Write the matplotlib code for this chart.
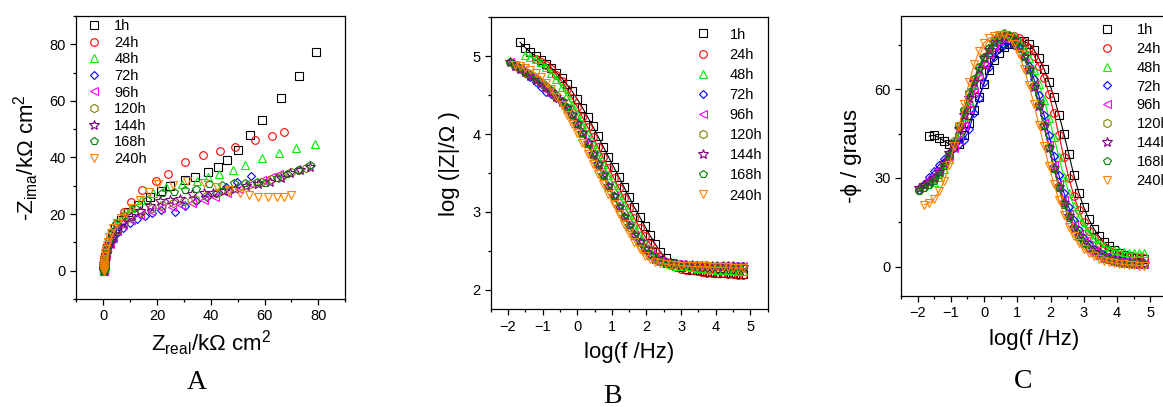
import matplotlib
matplotlib.use('Agg')
import matplotlib.pyplot as plt
from matplotlib.ticker import MultipleLocator

plt.rcParams['font.family'] = ['Liberation Sans', 'DejaVu Sans']
plt.rcParams['mathtext.fontset'] = 'custom'
plt.rcParams['mathtext.rm'] = 'Liberation Sans'
plt.rcParams['mathtext.it'] = 'Liberation Sans:italic'

labels = ['1h', '24h', '48h', '72h', '96h', '120h', '144h', '168h', '240h']
colors = ['black', '#ff0000', '#00ee00', '#0000ff', '#ff00ff', '#808000', '#800080', '#008000', '#ff8000']
markers = ['s', 'o', '^', 'D', '<', 'h', '*', 'p', 'v']

# ---- A: Nyquist (kOhm cm2) ----
zr_1h = [0.17,0.17,0.18,0.20,0.24,0.32,0.45,0.65,0.95,1.4,2.1,3.1,4.5,6.5,9.2,12.8,17.3,21.5,25.0,30.5,34.2,38.8,42.5,46.0,50.1,54.7,59.1,66.0,72.9,79.2]
zi_1h = [0.0,0.3,0.6,1.0,1.6,2.4,3.4,4.7,6.2,8.0,10.1,12.5,15.1,17.9,20.6,23.2,26.0,28.2,29.8,31.9,33.0,34.8,36.7,39.0,42.8,47.8,53.1,61.1,68.8,77.3]
zr_24h = [0.16,0.16,0.17,0.19,0.23,0.30,0.42,0.6,0.9,1.35,2.0,3.3,5.2,7.7,10.5,14.5,19.7,24.0,30.5,37.1,43.3,49.1,56.3,62.7,67.3]
zi_24h = [0.0,0.3,0.7,1.2,1.8,2.7,3.8,5.1,6.8,8.7,10.9,13.8,17.0,20.7,24.1,28.6,31.8,34.3,38.3,40.8,42.2,43.6,46.1,47.5,48.9]
zr_48h = [0.18,0.18,0.19,0.21,0.25,0.33,0.46,0.66,0.97,1.45,2.2,3.3,4.9,7.2,10.2,14.0,18.5,23.5,29.3,34.9,39.0,43.2,48.1,52.8,59.1,65.4,71.7,78.9]
zi_48h = [0.0,0.3,0.7,1.1,1.7,2.5,3.6,4.9,6.5,8.4,10.6,13.2,16.0,19.2,22.2,25.0,27.5,29.6,30.8,31.6,33.0,34.3,35.5,37.5,39.7,41.6,43.2,44.9]
zr_72h = [0.19,0.19,0.2,0.22,0.26,0.34,0.48,0.7,1.0,1.5,2.3,3.5,5.2,7.3,9.8,12.6,15.5,18.2,21.5,26.8,30.5,34.5,38.5,42.0,45.5,49.9,54.9]
zi_72h = [0.0,0.3,0.6,1.0,1.5,2.2,3.1,4.2,5.5,7.1,8.9,11.0,13.2,15.2,17.0,18.3,19.4,20.3,21.6,20.9,22.8,24.5,26.0,27.4,29.6,31.2,33.3]
zr_96h = [0.2,0.2,0.21,0.23,0.27,0.35,0.5,0.72,1.05,1.55,2.4,3.6,5.3,7.5,10.3,13.8,17.8,21.5,25.5,29.0,33.0,37.5,41.7,46.0,50.5,55.0,59.0,62.5,65.5]
zi_96h = [0.0,0.3,0.6,1.0,1.6,2.3,3.2,4.4,5.8,7.5,9.4,11.6,14.0,16.2,18.0,19.8,21.0,22.0,22.5,23.2,24.0,25.0,26.2,27.5,29.0,30.5,32.0,33.2,34.0]
zr_120h = [0.2,0.2,0.21,0.23,0.27,0.35,0.5,0.72,1.05,1.55,2.4,3.6,5.3,7.6,10.5,14.0,18.0,22.0,26.0,30.0,34.2,38.3,42.4,46.5,50.5,54.5,58.5,62.5,66.5,70.0,72.8,75.3]
zi_120h = [0.0,0.3,0.6,1.0,1.6,2.3,3.3,4.5,6.0,7.8,9.8,12.0,14.4,16.8,19.0,20.8,22.2,23.3,23.8,24.5,25.4,26.4,27.3,28.3,29.5,30.5,31.4,32.3,33.4,34.8,35.6,36.4]
zr_144h = [0.2,0.2,0.21,0.23,0.27,0.35,0.5,0.72,1.05,1.55,2.4,3.6,5.3,7.5,10.3,13.5,17.5,21.3,25.0,28.7,33.0,37.3,41.0,45.0,49.0,53.0,57.5,62.0,66.0,69.5,73.0,77.0]
zi_144h = [0.0,0.3,0.6,1.0,1.6,2.3,3.3,4.5,6.0,7.8,9.8,12.0,14.5,16.9,19.2,21.2,23.0,24.8,25.1,25.3,27.2,27.4,27.4,28.3,29.0,30.0,30.6,31.5,32.8,34.5,35.5,36.8]
zr_168h = [0.2,0.2,0.21,0.23,0.27,0.35,0.5,0.72,1.05,1.55,2.3,3.3,4.6,7.7,12.0,16.3,21.9,26.5,30.5,34.5,39.2,44.0,48.5,52.8,57.1,60.2,64.6,68.5,72.6,76.9]
zi_168h = [0.0,0.3,0.7,1.1,1.7,2.6,3.7,5.0,6.6,8.5,10.7,13.5,16.6,19.8,22.1,25.0,27.5,27.8,28.4,28.9,30.6,30.4,31.0,31.0,31.3,31.0,32.8,34.0,35.7,37.5]
zr_240h = [0.2,0.2,0.22,0.25,0.3,0.36,0.45,0.57,0.73,0.95,1.25,1.65,2.2,2.9,3.8,5.0,6.6,8.5,10.8,13.8,17.0,20.3,25.8,31.0,37.3,42.2,46.6,50.8,54.2,57.5,61.3,64.7,67.3,69.8]
zi_240h = [0.0,0.6,1.2,1.9,2.6,3.4,4.3,5.3,6.4,7.6,8.9,10.3,11.8,13.4,15.1,16.9,18.7,20.5,22.3,25.0,27.8,30.6,30.2,31.6,31.1,29.7,28.5,27.6,26.6,26.2,26.0,25.9,26.0,26.8]

# ---- frequency grid (log f / Hz), high to low ----
logf = [4.8, 4.65, 4.5, 4.35, 4.2, 4.05, 3.9, 3.75, 3.6, 3.45,
        3.3, 3.15, 3.0, 2.85, 2.7, 2.55, 2.4, 2.25, 2.1, 1.95,
        1.8, 1.65, 1.5, 1.35, 1.2, 1.05, 0.9, 0.75, 0.6, 0.45,
        0.3, 0.15, 0.0, -0.15, -0.3, -0.45, -0.6, -0.75, -0.9, -1.05,
        -1.2, -1.35, -1.5, -1.65, -1.8, -1.95]

# ---- B: log|Z| ----
logz_1h = [2.20,2.20,2.21,2.21,2.22,2.22,2.23,2.23,2.24,2.25,
           2.26,2.27,2.29,2.31,2.35,2.41,2.49,2.59,2.70,2.82,
           2.94,3.06,3.19,3.32,3.45,3.58,3.71,3.84,3.97,4.10,
           4.22,4.34,4.45,4.55,4.64,4.72,4.79,4.85,4.90,4.95,
           5.00,5.05,5.11,5.18]
logz_24h = [2.19,2.19,2.20,2.20,2.21,2.21,2.22,2.22,2.23,2.24,
            2.25,2.26,2.27,2.29,2.32,2.36,2.42,2.50,2.59,2.69,
            2.80,2.92,3.05,3.18,3.31,3.44,3.57,3.70,3.83,3.96,
            4.09,4.22,4.35,4.47,4.58,4.68,4.76,4.83,4.89,4.93,
            4.96]
logz_48h = [2.24,2.24,2.25,2.25,2.26,2.26,2.27,2.27,2.28,2.28,
            2.29,2.30,2.30,2.31,2.33,2.35,2.39,2.44,2.51,2.60,
            2.71,2.83,2.96,3.09,3.22,3.35,3.48,3.61,3.74,3.87,
            4.00,4.13,4.26,4.38,4.50,4.61,4.71,4.79,4.86,4.92,
            4.96,4.99,5.02]
logz_72h = [2.30,2.30,2.30,2.30,2.30,2.31,2.31,2.31,2.31,2.32,
            2.32,2.32,2.33,2.34,2.35,2.36,2.38,2.41,2.46,2.53,
            2.62,2.72,2.83,2.95,3.08,3.21,3.34,3.48,3.62,3.75,
            3.89,4.02,4.14,4.24,4.33,4.41,4.47,4.51,4.54,4.60,
            4.67,4.73,4.78,4.83,4.88,4.92]
logz_96h = [2.31,2.31,2.31,2.31,2.31,2.31,2.31,2.31,2.32,2.32,
            2.32,2.32,2.33,2.33,2.34,2.35,2.37,2.40,2.45,2.52,
            2.61,2.71,2.82,2.94,3.07,3.20,3.33,3.46,3.60,3.73,
            3.87,4.00,4.12,4.23,4.32,4.40,4.47,4.52,4.57,4.63,
            4.69,4.74,4.79,4.84,4.88,4.92]
logz_120h = [2.29,2.29,2.29,2.30,2.30,2.30,2.30,2.30,2.31,2.31,
             2.31,2.32,2.32,2.33,2.33,2.35,2.37,2.40,2.45,2.52,
             2.61,2.70,2.81,2.93,3.06,3.19,3.32,3.46,3.60,3.73,
             3.87,4.01,4.13,4.24,4.34,4.42,4.49,4.55,4.61,4.66,
             4.71,4.76,4.80,4.84,4.88,4.92]
logz_144h = [2.29,2.29,2.30,2.30,2.30,2.30,2.30,2.31,2.31,2.31,
             2.32,2.32,2.32,2.33,2.34,2.35,2.37,2.40,2.45,2.52,
             2.61,2.71,2.82,2.94,3.07,3.20,3.33,3.47,3.61,3.74,
             3.88,4.01,4.13,4.24,4.33,4.41,4.48,4.54,4.60,4.65,
             4.70,4.75,4.80,4.84,4.88,4.92]
logz_168h = [2.29,2.29,2.29,2.29,2.30,2.30,2.30,2.30,2.31,2.31,
             2.31,2.32,2.32,2.33,2.34,2.35,2.37,2.40,2.45,2.52,
             2.61,2.71,2.82,2.94,3.07,3.20,3.33,3.47,3.61,3.74,
             3.88,4.02,4.14,4.25,4.35,4.43,4.50,4.56,4.62,4.67,
             4.72,4.77,4.81,4.85,4.89,4.93]
logz_240h = [2.28,2.28,2.28,2.29,2.29,2.29,2.29,2.30,2.30,2.30,
             2.30,2.31,2.31,2.32,2.32,2.33,2.34,2.36,2.39,2.44,
             2.52,2.62,2.73,2.85,2.97,3.10,3.23,3.36,3.49,3.62,
             3.75,3.88,4.01,4.13,4.25,4.37,4.48,4.58,4.66,4.73,
             4.78,4.82,4.85,4.87,4.89]

# ---- C: -phase (graus) ----
ph_1h = [2.5,2.7,3.0,3.4,4.0,4.7,5.6,6.8,8.3,10.3,
         12.8,16.0,20.0,25.0,31.0,38.0,45.0,51.5,57.5,62.5,
         67.0,70.5,73.5,75.5,76.3,76.3,76.0,75.3,74.3,72.5,
         70.0,66.5,62.0,57.5,53.0,48.5,44.5,41.5,41.0,41.5,
         42.5,43.6,44.5,44.2]
ph_24h = [3.0,3.0,3.1,3.3,3.6,4.0,4.5,5.3,6.4,7.8,
          9.6,12.0,15.0,19.0,24.0,30.0,37.0,44.5,52.0,58.5,
          64.0,68.0,71.5,74.0,76.0,77.5,78.0,78.0,77.5,76.3,
          74.5,72.0,68.5,64.5,60.0,55.0,50.0,45.0,41.0,37.5,
          35.0]
ph_48h = [4.5,4.5,4.5,4.6,4.8,5.1,5.5,6.1,6.9,8.0,
          9.5,11.4,13.8,16.8,20.5,25.0,30.5,37.0,44.0,50.5,
          56.5,62.0,66.5,70.5,74.0,76.5,78.0,78.5,78.3,77.5,
          76.0,73.5,70.5,66.5,62.0,56.5,51.0,45.5,40.5,36.5,
          33.0,30.5,28.5]
ph_72h = [1.1,1.2,1.3,1.5,1.8,2.1,2.5,3.1,3.8,4.8,
          6.1,7.7,9.8,12.4,15.8,20.0,25.0,31.0,37.5,44.5,
          51.5,58.0,63.5,68.0,71.5,74.0,75.2,75.5,75.2,73.8,
          71.0,67.5,62.5,57.0,52.0,46.5,43.0,41.5,40.0,38.5,
          36.5,34.5,32.5,30.5,28.0,26.0]
ph_96h = [0.8,0.9,1.0,1.2,1.4,1.7,2.1,2.6,3.3,4.2,
          5.3,6.8,8.6,11.0,14.0,17.8,22.5,28.0,34.3,41.3,
          48.5,55.3,61.5,66.8,71.0,74.3,76.3,77.3,77.3,76.5,
          74.8,72.0,68.5,64.0,59.0,53.5,47.5,43.0,40.0,37.5,
          35.0,33.0,31.0,29.5,28.0,27.0]
ph_120h = [0.8,0.9,1.0,1.1,1.3,1.6,1.9,2.4,3.0,3.8,
           4.8,6.2,8.0,10.3,13.2,17.0,21.5,27.0,33.3,40.5,
           47.8,54.8,61.3,66.8,71.3,74.8,77.0,78.2,78.4,77.8,
           76.3,74.0,71.0,67.5,63.5,58.5,53.0,47.5,42.5,38.0,
           34.5,31.5,29.5,28.0,27.0,26.0]
ph_144h = [0.8,0.9,1.0,1.1,1.3,1.6,1.9,2.4,3.0,3.8,
           4.8,6.2,8.0,10.3,13.2,17.0,21.5,27.0,33.3,40.3,
           47.5,54.5,61.0,66.5,71.0,74.5,76.8,78.0,78.2,77.5,
           76.0,73.5,70.5,67.0,62.5,57.0,51.5,46.5,42.0,38.5,
           35.0,32.0,30.0,28.5,27.5,26.5]
ph_168h = [0.8,0.9,1.0,1.1,1.3,1.6,1.9,2.3,2.9,3.7,
           4.7,6.0,7.8,10.0,12.8,16.5,21.0,26.5,33.0,40.5,
           48.0,55.0,61.5,66.5,71.0,74.5,77.0,78.5,79.0,78.3,
           76.5,74.0,71.0,67.5,63.5,59.0,53.0,47.5,42.0,37.5,
           34.0,31.0,29.0,27.5,26.5,25.5]
ph_240h = [0.3,0.3,0.4,0.5,0.7,0.9,1.2,1.5,2.0,2.6,
           3.4,4.5,5.9,7.8,10.3,13.5,17.5,22.5,28.0,34.0,
           41.0,48.0,55.0,61.5,67.0,72.0,75.5,77.5,78.3,78.5,
           78.2,77.3,75.8,73.0,68.5,62.5,55.0,47.5,41.0,34.5,
           29.0,25.5,23.0,21.5,21.0]

zr_all = [zr_1h, zr_24h, zr_48h, zr_72h, zr_96h, zr_120h, zr_144h, zr_168h, zr_240h]
zi_all = [zi_1h, zi_24h, zi_48h, zi_72h, zi_96h, zi_120h, zi_144h, zi_168h, zi_240h]
logz_all = [logz_1h, logz_24h, logz_48h, logz_72h, logz_96h, logz_120h, logz_144h, logz_168h, logz_240h]
ph_all = [ph_1h, ph_24h, ph_48h, ph_72h, ph_96h, ph_120h, ph_144h, ph_168h, ph_240h]

fig = plt.figure(figsize=(11.63, 4.07), dpi=100)
axA = fig.add_axes([0.0656, 0.2654, 0.2313, 0.6953])
axB = fig.add_axes([0.4219, 0.2400, 0.2382, 0.7175])
axC = fig.add_axes([0.7747, 0.2727, 0.2287, 0.6887])


def msize(m):
    if m == '*':
        return 7
    if m == 'D':
        return 4.5
    if m == 'p' or m == 'h':
        return 6
    return 5.5


def style(ax):
    for s in ax.spines.values():
        s.set_linewidth(0.9)
    ax.tick_params(which='both', direction='out', top=False, right=False, labelsize=10.5)
    ax.tick_params(which='major', length=4, width=0.9)
    ax.tick_params(which='minor', length=2.5, width=0.9)


# A
for i in range(len(labels)):
    axA.plot(zr_all[i], zi_all[i], linestyle='none', marker=markers[i], ms=msize(markers[i]),
             mfc='none', mec=colors[i], mew=0.8, label=labels[i])
axA.set_xlim(-10, 90)
axA.set_ylim(-10, 90)
axA.xaxis.set_major_locator(MultipleLocator(20))
axA.xaxis.set_minor_locator(MultipleLocator(10))
axA.yaxis.set_major_locator(MultipleLocator(20))
axA.yaxis.set_minor_locator(MultipleLocator(10))
style(axA)
axA.set_xlabel('Z$_{\\rm real}$/k\u03a9 cm$^2$', fontsize=16, labelpad=4)
axA.set_ylabel('-Z$_{\\rm ima}$/k\u03a9 cm$^2$', fontsize=16, labelpad=6)
axA.legend(loc='upper left', bbox_to_anchor=(0.0, 1.02), frameon=False, fontsize=10.5,
           handlelength=1.2, handletextpad=0.8, labelspacing=0.18, borderaxespad=0.2)

# B and C
for ax, ydata in [(axB, logz_all), (axC, ph_all)]:
    for i in range(len(labels)):
        x = logf[:len(ydata[i])]
        ax.plot(x, ydata[i], color=colors[i], lw=0.8)
        ax.plot(x, ydata[i], linestyle='none', marker=markers[i], ms=msize(markers[i]),
                mfc='none', mec=colors[i], mew=0.8, label=labels[i])
    ax.set_xlim(-2.5, 5.5)
    ax.xaxis.set_major_locator(MultipleLocator(1))
    ax.xaxis.set_minor_locator(MultipleLocator(0.5))
    style(ax)
    ax.set_xlabel('log(f /Hz)', fontsize=16, labelpad=6)

axB.set_ylim(1.75, 5.5)
axB.yaxis.set_major_locator(MultipleLocator(1))
axB.yaxis.set_minor_locator(MultipleLocator(0.5))
axB.set_ylabel('log (|Z|/\u03a9 )', fontsize=16, labelpad=9)
axB.legend(loc='upper right', bbox_to_anchor=(1.017, 1.0), frameon=False, fontsize=10.5,
           handlelength=1.2, handletextpad=1.2, labelspacing=0.42, borderaxespad=0.3)

axC.set_ylim(-10, 85)
axC.yaxis.set_major_locator(MultipleLocator(30))
axC.yaxis.set_minor_locator(MultipleLocator(15))
axC.set_ylabel('-\u03d5 / graus', fontsize=16, labelpad=9)
axC.legend(loc='upper left', bbox_to_anchor=(0.705, 1.01), frameon=False, fontsize=10.5,
           handlelength=1.2, handletextpad=1.4, labelspacing=0.33, borderaxespad=0.3)

fig.text(0.1694, 0.045, 'A', fontsize=20, family='Liberation Serif', ha='center')
fig.text(0.527, 0.01, 'B', fontsize=20, family='Liberation Serif', ha='center')
fig.text(0.8796, 0.047, 'C', fontsize=20, family='Liberation Serif', ha='center')

fig.savefig('out.png', dpi=100)
